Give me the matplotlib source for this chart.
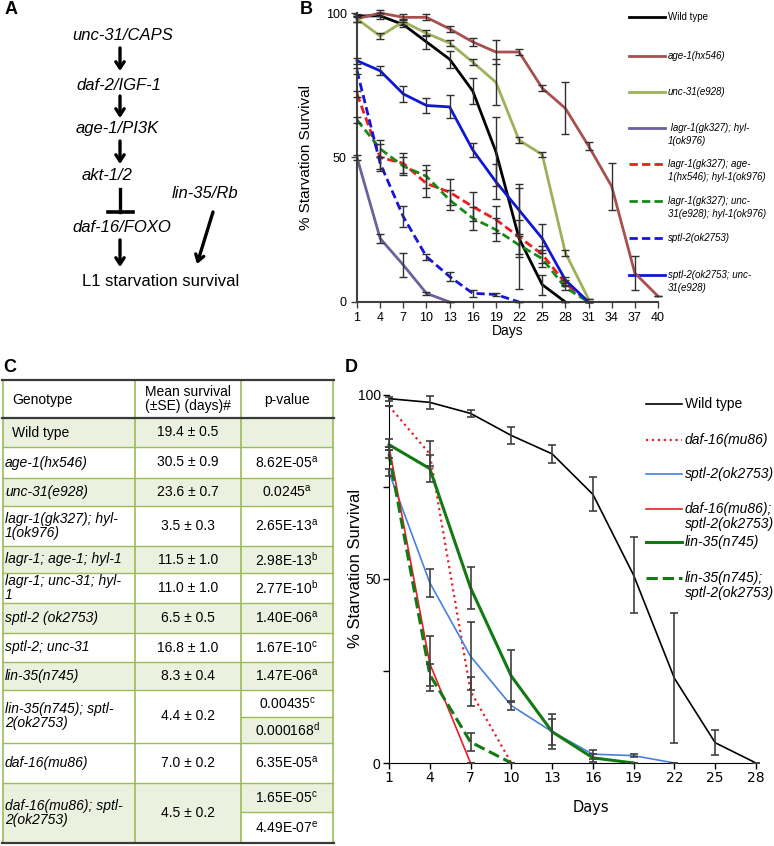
import matplotlib
matplotlib.use("Agg")
import matplotlib.pyplot as plt

plt.rcParams["font.family"] = ["Liberation Sans", "DejaVu Sans"]

W, H = 774, 846

# ── Panel B data (days 1..40 every 3 days) ──────────────────────────────
days_b = [1, 4, 7, 10, 13, 16, 19, 22, 25, 28, 31, 34, 37, 40]
wt_b = [99, 99, 96, 90, 84, 73, 52, 22, 6, 0]
wt_b_err = [0.5, 1, 1, 2.5, 3, 4.5, 12, 17.5, 3.5, 0]
age1_b = [98, 100, 98.5, 98.5, 94.5, 90, 86.5, 86.5, 74, 67, 54, 40, 10, 2]
age1_b_err = [1, 1, 1, 1, 1, 1.5, 4, 1, 1, 9, 1.5, 8, 6, 0]
unc31_b = [98, 92, 97, 93, 89.6, 83, 76, 56, 51, 17, 1]
unc31_b_err = [1, 1, 1, 1, 1, 1, 8, 1, 1, 1, 0]
lagr_hyl_b = [50, 22, 12.8, 3, 0]
lagr_hyl_b_err = [1, 1.5, 4.3, 0.5, 0]
lagr_age_b = [72, 50, 48, 41, 38, 33, 28.5, 22.5, 16.5, 6.5, 0]
lagr_age_b_err = [1, 4.6, 3.5, 4.6, 4.6, 5, 4.6, 6, 3, 1, 0]
lagr_unc_b = [63, 53, 47, 43.5, 35.3, 29, 25, 19.7, 15, 5, 0]
lagr_unc_b_err = [1, 3, 3, 4, 3.5, 4, 4, 4, 3, 1, 0]
sptl2_b = [80, 48, 29.5, 15.7, 8.8, 3, 2.6, 0]
sptl2_b_err = [1, 2, 3.7, 1, 1.7, 1.2, 0.5, 0]
sptl2_unc_b = [83.5, 80, 72, 68, 67.5, 52.6, 41.6, 31.8, 22, 7.6, 0]
sptl2_unc_b_err = [1, 1.5, 2.8, 2.5, 4, 2.5, 6, 9, 5, 1, 0]

# ── Panel D data (days 1..28 every 3 days) ──────────────────────────────
days_d = [1, 4, 7, 10, 13, 16, 19, 22, 25, 28]
wt_d = [99, 98, 95, 89, 84, 73, 51, 23, 5.5, 0]
wt_d_err = [0.5, 1.7, 1, 2.4, 2.4, 4.6, 10.3, 17.7, 3.4, 0]
daf16_d = [97, 84, 19.5, 0]
daf16_d_err = [0, 3.4, 4, 0]
sptl2_d = [79, 49, 29, 15.6, 8.5, 2.4, 2, 0]
sptl2_d_err = [1, 3.8, 9.2, 1.2, 3.5, 1.2, 0.5, 0]
daf16_sptl2_d = [86, 27, 0]
daf16_sptl2_d_err = [0, 7.5, 0]
lin35_d = [86.5, 80, 47.6, 23.6, 8.5, 1.4, 0]
lin35_d_err = [1.5, 3.6, 5.7, 7, 4.7, 1, 0]
lin35_sptl2_d = [84, 24, 5.7, 0]
lin35_sptl2_d_err = [1, 3, 2.5, 0]

# ── Panel C table ───────────────────────────────────────────────────────
genotypes = ["Wild type", "age-1(hx546)", "unc-31(e928)",
             "lagr-1(gk327); hyl-\n1(ok976)", "lagr-1; age-1; hyl-1",
             "lagr-1; unc-31; hyl-\n1", "sptl-2 (ok2753)", "sptl-2; unc-31",
             "lin-35(n745)", "lin-35(n745); sptl-\n2(ok2753)", "daf-16(mu86)",
             "daf-16(mu86); sptl-\n2(ok2753)"]
mean_survival = ["19.4 ± 0.5", "30.5 ± 0.9", "23.6 ± 0.7", "3.5 ± 0.3",
                 "11.5 ± 1.0", "11.0 ± 1.0", "6.5 ± 0.5", "16.8 ± 1.0",
                 "8.3 ± 0.4", "4.4 ± 0.2", "7.0 ± 0.2", "4.5 ± 0.2"]
p_values = [[], [("8.62E-05", "a")], [("0.0245", "a")], [("2.65E-13", "a")],
            [("2.98E-13", "b")], [("2.77E-10", "b")], [("1.40E-06", "a")],
            [("1.67E-10", "c")], [("1.47E-06", "a")],
            [("0.00435", "c"), ("0.000168", "d")], [("6.35E-05", "a")],
            [("1.65E-05", "c"), ("4.49E-07", "e")]]

# ── Figure ──────────────────────────────────────────────────────────────
fig = plt.figure(figsize=(W / 100, H / 100), dpi=100)
fig.patch.set_facecolor("white")

ov = fig.add_axes([0, 0, 1, 1])
ov.set_xlim(0, W)
ov.set_ylim(H, 0)
ov.axis("off")
ov.patch.set_alpha(0)

# panel letters
for lx, ly, lab in [(5, 10, "A"), (300, 10, "B"), (3, 368, "C"), (345, 368, "D")]:
    ov.text(lx, ly, lab, fontsize=13, fontweight="bold", va="center", ha="left")

# ── Panel A: pathway ────────────────────────────────────────────────────
A_FS = 12
for tx, ty, t in [(123, 35, "unc-31/CAPS"), (119, 85, "daf-2/IGF-1"),
                  (117, 128, "age-1/PI3K"), (107, 175, "akt-1/2"),
                  (122, 228, "daf-16/FOXO"), (205, 193, "lin-35/Rb")]:
    ov.text(tx, ty, t, fontsize=A_FS, style="italic", ha="center", va="center")
ov.text(161, 282, "L1 starvation survival", fontsize=A_FS, ha="center", va="center")

arrow_kw = dict(arrowstyle="->,head_length=0.45,head_width=0.3", lw=2.4, color="black",
                shrinkA=0, shrinkB=0)
for y0, y1 in [(48, 71), (96, 118), (141, 164), (240, 267)]:
    ov.annotate("", xy=(120, y1), xytext=(120, y0), arrowprops=arrow_kw)
ov.annotate("", xy=(197, 264), xytext=(213, 212), arrowprops=arrow_kw)
ov.plot([120, 120], [189, 212], color="black", lw=2.4)
ov.plot([108, 133], [212, 212], color="black", lw=2.6)

# ── Panel C: table ──────────────────────────────────────────────────────
SHADE = "#EBF1DE"
GRID = "#9BBB59"
col_x = [3, 135, 241, 333]
row_y = [418, 447, 478, 506, 546, 573, 603, 633, 662, 690, 743, 783, 843]
split_y = {9: 717, 11: 812}
shaded = [True, False, True, False, True, False, True, False, True, False, False, True]

for i in range(len(genotypes)):
    y0, y1 = row_y[i], row_y[i + 1]
    if shaded[i]:
        ov.fill_between([col_x[0], col_x[3]], y0, y1, color=SHADE, lw=0, zorder=0)
    if i in split_y:
        ys = split_y[i]
        # p-value sub-cells alternate
        top_c, bot_c = (None, SHADE) if not shaded[i] else (SHADE, "white")
        if top_c:
            ov.fill_between([col_x[2], col_x[3]], y0, ys, color=top_c, lw=0, zorder=0)
        ov.fill_between([col_x[2], col_x[3]], ys, y1, color=bot_c, lw=0, zorder=0)
        ov.plot([col_x[2], col_x[3]], [ys, ys], color=GRID, lw=1, zorder=1)

for y in row_y[1:-1]:
    ov.plot([col_x[0], col_x[3]], [y, y], color=GRID, lw=1, zorder=1)
for x in col_x:
    ov.plot([x, x], [380, 843], color=GRID, lw=1.2, zorder=1)
for y in [380, 418, 843]:
    ov.plot([col_x[0] - 1, col_x[3] + 1], [y, y], color="#3a3a3a", lw=1.6, zorder=2)

TFS = 10
ov.text(12, 400, "Genotype", fontsize=TFS, va="center", ha="left")
ov.text(188, 399, "Mean survival\n(±SE) (days)#", fontsize=TFS, va="center",
        ha="center", linespacing=1.05)
ov.text(287, 400, "p-value", fontsize=TFS, va="center", ha="center")

for i, g in enumerate(genotypes):
    y0, y1 = row_y[i], row_y[i + 1]
    yc = (y0 + y1) / 2
    if g == "Wild type":
        ov.text(12, yc, g, fontsize=TFS, va="center", ha="left")
    else:
        ov.text(5, yc, g, fontsize=TFS, style="italic", va="center", ha="left",
                linespacing=1.0)
    ov.text(188, yc, mean_survival[i], fontsize=TFS, va="center", ha="center")
    pv = p_values[i]
    if len(pv) == 1:
        centers = [yc]
    elif len(pv) == 2:
        ys = split_y[i]
        centers = [(y0 + ys) / 2, (ys + y1) / 2]
    else:
        centers = []
    for (val, sup), cy in zip(pv, centers):
        ov.text(287, cy, val + r"$^{\mathregular{" + sup + "}}$", fontsize=TFS,
                va="center", ha="center")

# ── Panel B: survival curves ────────────────────────────────────────────
axB = fig.add_axes([357 / W, 1 - 302 / H, 301 / W, 289 / H])
axB.patch.set_alpha(0)
b_series = [
    (wt_b, wt_b_err, "#000000", "-", "Wild type"),
    (age1_b, age1_b_err, "#A8504D", "-", "age-1(hx546)"),
    (unc31_b, unc31_b_err, "#9BB25A", "-", "unc-31(e928)"),
    (lagr_hyl_b, lagr_hyl_b_err, "#6F5F9A", "-", " lagr-1(gk327); hyl-\n1(ok976)"),
    (lagr_age_b, lagr_age_b_err, "#EE1C1C", "--", "lagr-1(gk327); age-\n1(hx546); hyl-1(ok976)"),
    (lagr_unc_b, lagr_unc_b_err, "#168A16", "--", "lagr-1(gk327); unc-\n31(e928); hyl-1(ok976)"),
    (sptl2_b, sptl2_b_err, "#1515D8", "--", "sptl-2(ok2753)"),
    (sptl2_unc_b, sptl2_unc_b_err, "#0F17D6", "-", "sptl-2(ok2753; unc-\n31(e928)"),
]
for vals, err, col, ls, lab in b_series:
    d = days_b[:len(vals)]
    axB.errorbar(d, vals, yerr=err, fmt="none", ecolor="#303030", elinewidth=1,
                 capsize=3, capthick=1, zorder=3, clip_on=False)
    axB.plot(d, vals, color=col, ls=ls, lw=2, zorder=2, clip_on=False,
             dashes=(3, 1.5) if ls == "--" else (None, None))
axB.set_xlim(1, 40)
axB.set_ylim(0, 100)
axB.set_xticks(days_b)
axB.set_yticks([0, 50, 100])
axB.tick_params(labelsize=9, length=4, width=1, color="#404040")
for s in ["top", "right"]:
    axB.spines[s].set_visible(False)
for s in ["left", "bottom"]:
    axB.spines[s].set_color("#404040")
    axB.spines[s].set_linewidth(1.5)
axB.set_ylabel("% Starvation Survival", fontsize=11)
axB.yaxis.set_label_coords(-0.145, 0.5)
axB.set_xlabel("Days", fontsize=10, labelpad=0)

# legend B (manual)
b_leg_y = [17, 56, 92, 128, 164, 201, 238, 275]
for (vals, err, col, ls, lab), ly in zip(b_series, b_leg_y):
    ov.plot([629, 665], [ly, ly], color=col, lw=2,
            dashes=(3, 1.5) if ls == "--" else (None, None))
    for k, line in enumerate(lab.split("\n")):
        ov.text(668, ly + k * 13, line, fontsize=7,
                style="normal" if lab == "Wild type" else "italic",
                va="center", ha="left")

# ── Panel D: survival curves ────────────────────────────────────────────
axD = fig.add_axes([389 / W, 1 - 763 / H, 367 / W, 368 / H])
axD.patch.set_alpha(0)
d_series = [
    (wt_d, wt_d_err, "#000000", "-", 1.2, "Wild type"),
    (daf16_d, daf16_d_err, "#E8202A", ":", 1.6, "daf-16(mu86)"),
    (sptl2_d, sptl2_d_err, "#4A7FE0", "-", 1.2, "sptl-2(ok2753)"),
    (daf16_sptl2_d, daf16_sptl2_d_err, "#EE1C24", "-", 1.2, "daf-16(mu86);\nsptl-2(ok2753)"),
    (lin35_d, lin35_d_err, "#117A11", "-", 2.2, "lin-35(n745)"),
    (lin35_sptl2_d, lin35_sptl2_d_err, "#117A11", "--", 2.2, "lin-35(n745);\nsptl-2(ok2753)"),
]
for vals, err, col, ls, lw, lab in d_series:
    d = days_d[:len(vals)]
    axD.errorbar(d, vals, yerr=err, fmt="none", ecolor="#404040", elinewidth=1.2,
                 capsize=3, capthick=1.2, zorder=3, clip_on=False)
    axD.plot(d, vals, color=col, ls=ls, lw=lw, zorder=2, clip_on=False)
axD.set_xlim(1, 28)
axD.set_ylim(0, 100)
axD.set_xticks(days_d)
axD.set_yticks([0, 25, 50, 75, 100])
axD.set_yticklabels(["0", "", "50", "", "100"])
axD.tick_params(labelsize=10, length=4, width=1, pad=2)
for lab in axD.get_xticklabels():
    lab.set_family("DejaVu Sans")
for s in ["top", "right"]:
    axD.spines[s].set_visible(False)
axD.set_ylabel("% Starvation Survival", fontsize=12)
axD.yaxis.set_label_coords(-0.07, 0.53)
axD.set_xlabel("Days", fontsize=10.5, family="DejaVu Sans")
axD.xaxis.set_label_coords(0.55, -0.1)

d_leg_y = [404, 440, 474, 509, 542, 578]
for (vals, err, col, ls, lw, lab), ly in zip(d_series, d_leg_y):
    ov.plot([646, 682], [ly, ly], color=col, ls=ls, lw=lw)
    for k, line in enumerate(lab.split("\n")):
        ov.text(685, ly + k * 15, line, fontsize=10,
                style="normal" if lab == "Wild type" else "italic",
                va="center", ha="left")

fig.savefig("out.png", dpi=100, facecolor="white")
